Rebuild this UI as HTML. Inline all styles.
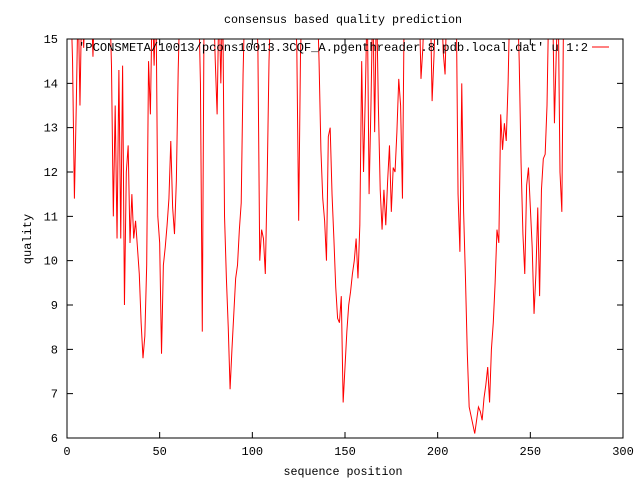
<!DOCTYPE html>
<html><head><meta charset="utf-8"><style>
body{margin:0;background:#fff;}
svg{display:block;font-family:"Liberation Mono",monospace;font-size:12px;}
</style></head><body>
<svg id="chart" width="640" height="480">
<defs><clipPath id="clip"><rect x="67" y="39" width="556" height="399"/></clipPath></defs>
<text x="343" y="23" text-anchor="middle" textLength="238" lengthAdjust="spacingAndGlyphs">consensus based quality prediction</text>
<text x="343" y="475" text-anchor="middle" textLength="119" lengthAdjust="spacingAndGlyphs">sequence position</text>
<text transform="translate(31,239) rotate(-90)" text-anchor="middle">quality</text>
<g id="axes"></g>
<g id="series" clip-path="url(#clip)"></g>
<rect x="67" y="39" width="556" height="399" fill="none" stroke="#000"/>
<text x="78" y="51" textLength="510" lengthAdjust="spacingAndGlyphs">'PCONSMETA/10013/pcons10013.3CQF_A.pgenthreader.8.pdb.local.dat' u 1:2</text>
<line x1="592" y1="47" x2="609" y2="47" stroke="#f00"/>
</svg>
<script>
const xTicks=[0,50,100,150,200,250,300];
const yTicks=[6,7,8,9,10,11,12,13,14,15];
const quality=[16,16,14.5,11.4,13.5,16,13.5,16,14.8,16,16,16,16,14.6,16,16,16,16,16,16,16,16,16,
14.4,11,13.5,10.5,14.3,10.5,14.4,9.0,12,12.6,10.4,11.5,10.5,10.9,10.3,9.7,8.6,7.8,8.3,9.9,14.5,13.3,16,14.4,16,11,10.4,7.9,9.9,10.3,10.8,11.4,12.7,11.2,10.6,11.8,14.3,
16,16,16,16,16,16,16,16,16,16,16,14.0,8.4,16,16,16,16,16,16,14.5,13.3,16,14,16,11,9.6,8.5,7.1,8.0,8.8,9.6,9.9,10.7,11.3,14.2,
16,16,16,16,16,16,16,14.8,10.0,10.7,10.5,9.7,11.8,14.5,16,16,16,16,16,16,16,16,16,16,16,16,16,16,14.8,10.9,14.7,16,16,16,16,16,16,16,16,16,
14.5,12.5,11.4,10.9,10.0,12.8,13,11.5,10.5,9.4,8.7,8.6,9.2,6.8,7.6,8.4,9.0,9.3,9.7,10.0,10.5,9.6,10.8,14.5,12.0,13.8,16,11.5,13.5,16,12.9,16,13.5,11.6,10.7,11.6,10.8,11.8,12.6,11.1,12.1,12,12.9,14.1,13.5,11.4,
16,16,16,16,16,16,16,16,16,14.1,14.8,16,16,16,16,13.6,14.6,16,16,16,16,14.7,14.2,16,16,16,16,16,16,
11.5,10.2,14.0,11.1,9.6,7.9,6.7,6.5,6.3,6.1,6.4,6.7,6.6,6.4,6.9,7.2,7.6,6.8,8.0,8.6,9.5,10.7,10.4,13.3,12.5,13.1,12.7,14.0,16,16,16,16,16,
14.5,12.2,10.6,9.7,11.7,12.1,11.2,10.3,8.8,9.7,11.2,9.2,11.6,12.3,12.4,13.5,16,16,16,13.1,14.7,16,12.0,11.1,16];
const X0=67,X1=623,Y0=438,Y1=39;
const sx=v=>X0+(v-0)/(300-0)*(X1-X0);
const sy=v=>Y0-(v-6)/(15-6)*(Y0-Y1);
const NS="http://www.w3.org/2000/svg";
const axes=document.getElementById('axes');
function mk(t,a,p){const e=document.createElementNS(NS,t);for(const k in a)e.setAttribute(k,a[k]);p.appendChild(e);return e;}
xTicks.forEach(v=>{const x=sx(v);
const t=mk('path',{d:`M${x},${Y0}v-6M${x},${Y1}v6`,stroke:'#000'},axes);


const l=mk('text',{x:x,y:Y0+17,'text-anchor':'middle'},axes);l.textContent=v;

});
yTicks.forEach(v=>{const y=sy(v);
const t=mk('path',{d:`M${X0},${y}h6M${X1},${y}h-6`,stroke:'#000'},axes);


const l=mk('text',{x:X0-9,y:y+4,'text-anchor':'end'},axes);l.textContent=v;

});
let d='';quality.forEach((v,i)=>{d+=(i?'L':'M')+sx(i+1).toFixed(2)+','+sy(v).toFixed(2);});
const line=mk('path',{d:d,fill:'none',stroke:'#f00','stroke-width':1},document.getElementById('series'));


</script>
</body></html>
